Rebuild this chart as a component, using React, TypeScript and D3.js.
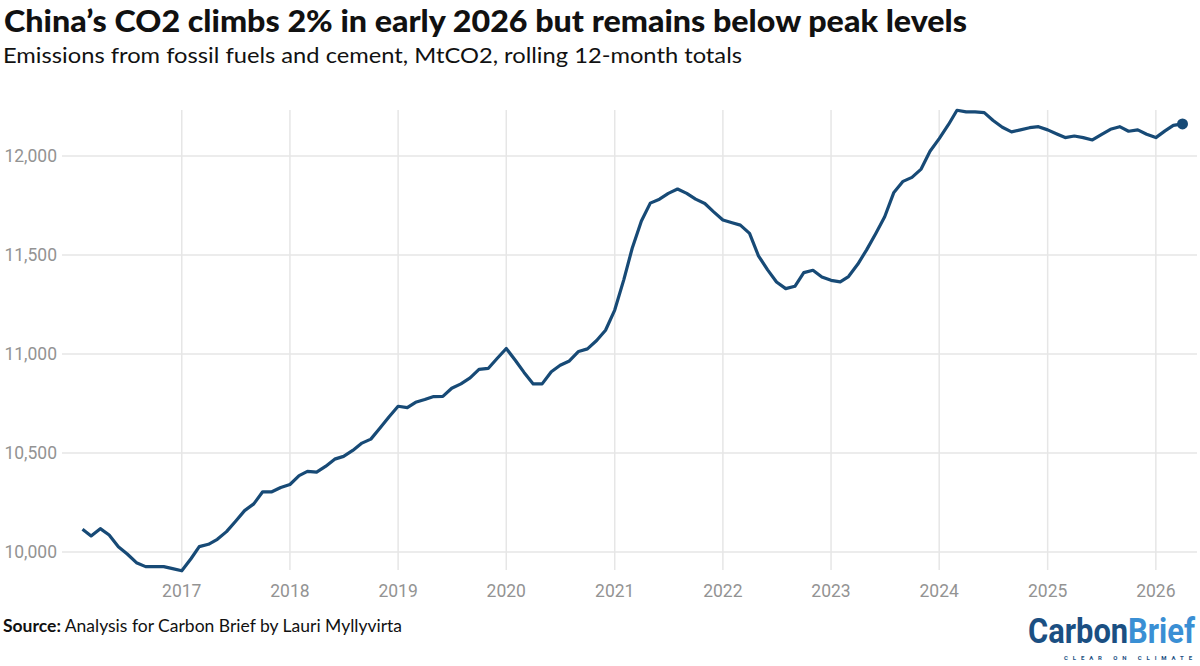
import React, { useEffect, useRef } from 'react';
import * as d3 from 'd3';

// Rolling 12-month totals, MtCO2, Feb 2016 .. Apr 2026 (one value per month)
const firstMonth = '2016-02';
const emissions: number[] = [
  // 2016 (Feb-Dec)
  10115, 10081, 10118, 10086, 10027, 9990, 9946, 9926, 9926, 9926, 9916,
  // 2017
  9905, 9966, 10027, 10039, 10064, 10103, 10154, 10209, 10243, 10304, 10304, 10326,
  // 2018
  10341, 10386, 10407, 10403, 10432, 10469, 10483, 10513, 10550, 10570, 10626, 10682,
  // 2019
  10736, 10729, 10756, 10770, 10785, 10786, 10827, 10849, 10879, 10922, 10927, 10977,
  // 2020
  11028, 10967, 10907, 10849, 10849, 10910, 10943, 10965, 11013, 11026, 11068, 11120,
  // 2021
  11222, 11377, 11534, 11672, 11762, 11782, 11811, 11833, 11811, 11782, 11760, 11718,
  // 2022
  11677, 11663, 11651, 11609, 11496, 11425, 11364, 11330, 11342, 11411, 11423, 11389,
  // 2023
  11372, 11364, 11391, 11453, 11526, 11609, 11693, 11816, 11872, 11892, 11934, 12024,
  // 2024
  12088, 12158, 12231, 12223, 12223, 12219, 12179, 12145, 12122, 12132, 12143, 12148,
  // 2025
  12132, 12111, 12093, 12101, 12093, 12081, 12108, 12135, 12148, 12125, 12132, 12110,
  // 2026 (Jan-Apr)
  12093, 12127, 12155, 12162,
];
const yTicks = [10000, 10500, 11000, 11500, 12000];

const title = 'China\u2019s CO2 climbs 2% in early 2026 but remains below peak levels';
const subtitle = 'Emissions from fossil fuels and cement, MtCO2, rolling 12-month totals';

const WIDTH = 1200;
const HEIGHT = 666;
const LINE = '#174a76';
const GRID = '#e6e6e6';
const TICK = '#939393';

export default function App() {
  const plotRef = useRef<SVGGElement>(null);

  useEffect(() => {
    if (!plotRef.current) return;
    const g = d3.select(plotRef.current);
    g.selectAll('*').remove();

    const parse = d3.timeParse('%Y-%m');
    const start = parse(firstMonth)!;
    const data = emissions.map((v, i) => ({ date: d3.timeMonth.offset(start, i), value: v }));

    const x = d3.scaleTime()
      .domain(d3.extent(data, d => d.date) as [Date, Date])
      .range([82.5, 1182.5]);
    const y = d3.scaleLinear().domain([10000, 12000]).range([552, 156]);

    const years = d3.timeYear.range(d3.timeYear.ceil(x.domain()[0]), x.domain()[1]);

    // grid
    g.append('g').selectAll('line')
      .data(years)
      .enter().append('line')
      .attr('x1', d => x(d)).attr('x2', d => x(d))
      .attr('y1', 110).attr('y2', 570)
      .attr('stroke', GRID).attr('stroke-width', 1.5);
    g.append('g').selectAll('line')
      .data(yTicks)
      .enter().append('line')
      .attr('x1', 62).attr('x2', 1197)
      .attr('y1', d => y(d)).attr('y2', d => y(d))
      .attr('stroke', GRID).attr('stroke-width', 1.5);

    // y labels
    g.append('g').selectAll('text')
      .data(yTicks)
      .enter().append('text')
      .attr('x', 57).attr('y', d => y(d)).attr('dy', '0.36em')
      .attr('text-anchor', 'end')
      .attr('font-family', 'Roboto, sans-serif').attr('font-size', 17.5)
      .attr('fill', TICK)
      .text(d => d3.format(',')(d));

    // x labels
    g.append('g').selectAll('text')
      .data(years)
      .enter().append('text')
      .attr('x', d => x(d)).attr('y', 597)
      .attr('text-anchor', 'middle')
      .attr('font-family', 'Roboto, sans-serif').attr('font-size', 17.5)
      .attr('fill', TICK)
      .text(d => d3.timeFormat('%Y')(d));

    // line
    const line = d3.line<{ date: Date; value: number }>()
      .x(d => x(d.date))
      .y(d => y(d.value));
    g.append('path')
      .datum(data)
      .attr('d', line)
      .attr('fill', 'none')
      .attr('stroke', LINE)
      .attr('stroke-width', 3.2)
      .attr('stroke-linejoin', 'round');

    const last = data[data.length - 1];
    g.append('circle')
      .attr('cx', x(last.date)).attr('cy', y(last.value))
      .attr('r', 5.5).attr('fill', LINE);
  }, []);

  return (
    <svg
      width={WIDTH}
      height={HEIGHT}
      style={{ position: 'absolute', left: 0, top: 0, background: '#fff' }}
    >
      <text x={4} y={31.5} fontFamily="Lato, sans-serif" fontWeight={900} fontSize={30}
        fill="#111" textLength={963} lengthAdjust="spacingAndGlyphs">{title}</text>
      <text x={3} y={62.5} fontFamily="Lato, sans-serif" fontSize={21}
        fill="#111" textLength={739} lengthAdjust="spacingAndGlyphs">{subtitle}</text>
      <text x={3} y={631.5} fontFamily="Lato, sans-serif" fontSize={16.5} fill="#111"
        textLength={399} lengthAdjust="spacingAndGlyphs">
        <tspan fontWeight={700}>Source:</tspan> Analysis for Carbon Brief by Lauri Myllyvirta
      </text>
      {/* logo: condensed look by stretching vertically */}
      <g transform="translate(1028,643) scale(1,1.15)">
        <text x={0} y={0} fontFamily="Roboto, sans-serif" fontWeight={700} fontSize={31}
          textLength={167} lengthAdjust="spacingAndGlyphs">
          <tspan fill="#1b4f82">Carbon</tspan><tspan fill="#3a8fd4">Brief</tspan>
        </text>
      </g>
      <text x={1064} y={660} fontFamily="Roboto, sans-serif" fontWeight={700} fontSize={6}
        fill="#1b4f82" textLength={128} lengthAdjust="spacing">CLEAR ON CLIMATE</text>
      <g ref={plotRef} />
    </svg>
  );
}
